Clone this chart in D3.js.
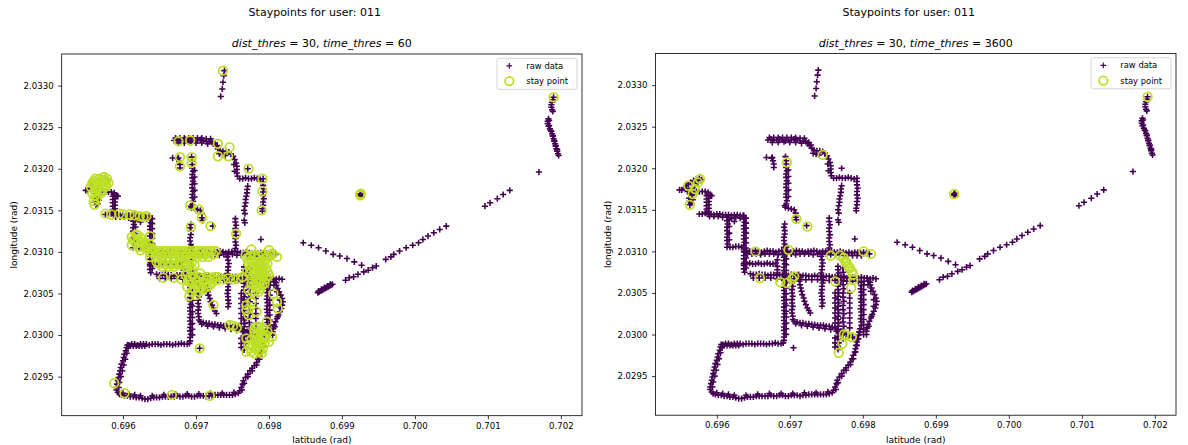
<!DOCTYPE html>
<html><head><meta charset="utf-8">
<script src="https://cdn.jsdelivr.net/npm/d3@7"></script>
<style>body{margin:0;background:#fff}svg{display:block}text{font-family:"DejaVu Sans",sans-serif;fill:#000}</style>
</head><body><svg id="chart" width="1188" height="445"></svg>
<script>
const xTicks=[0.696,0.697,0.698,0.699,0.700,0.701,0.702];
const yTicks=[2.0295,2.0300,2.0305,2.0310,2.0315,2.0320,2.0325,2.0330];
const thresholds=["60","3600"];
const userId="011";

const rawNorth=[[0.69739,2.03318],[0.69738,2.03312],[0.69737,2.03304],[0.69736,2.03296],[0.69734,2.03287],
[0.69668,2.03213],[0.69676,2.03213],[0.69677,2.03209],[0.69678,2.03205],[0.69678,2.03201],[0.69675,2.03212],
[0.69670,2.03234],[0.69674,2.03235],[0.69678,2.03234],[0.69682,2.03234],[0.69686,2.03235],[0.69690,2.03234],[0.69694,2.03233],[0.69698,2.03234],[0.69702,2.03234],[0.69706,2.03235],[0.69710,2.03234],[0.69714,2.03233],[0.69718,2.03233],[0.69722,2.03232],
[0.69676,2.03231],[0.69684,2.03231],[0.69692,2.03232],[0.69700,2.03231],[0.69708,2.03231],[0.69716,2.03230],
[0.69672,2.03237],[0.69678,2.03237],[0.69684,2.03237],[0.69690,2.03237],[0.69696,2.03237],[0.69702,2.03237],[0.69708,2.03237],[0.69714,2.03236],[0.69720,2.03236],
[0.69724,2.03230],[0.69727,2.03227],[0.69730,2.03224],[0.69733,2.03222],[0.69737,2.03221],[0.69741,2.03221],[0.69745,2.03220],[0.69748,2.03218],[0.69751,2.03215],[0.69753,2.03211],[0.69755,2.03207],[0.69756,2.03203],[0.69756,2.03199],[0.69756,2.03195],[0.69757,2.03191],[0.69760,2.03188],
[0.69732,2.03218],[0.69736,2.03217],[0.69740,2.03216],[0.69752,2.03205],[0.69753,2.03197],[0.69726,2.03231],[0.69729,2.03228],
[0.69764,2.03188],[0.69768,2.03189],[0.69772,2.03188],[0.69776,2.03188],[0.69780,2.03189],[0.69784,2.03188],[0.69788,2.03187],[0.69792,2.03188],
[0.69792,2.03184],[0.69792,2.03180],[0.69793,2.03176],[0.69792,2.03172],[0.69792,2.03168],[0.69793,2.03164],[0.69792,2.03160],[0.69792,2.03156],[0.69791,2.03152],[0.69791,2.03149],
[0.69771,2.03200],
[0.69771,2.03179],[0.69770,2.03175],[0.69770,2.03171],[0.69769,2.03167],[0.69768,2.03163],[0.69768,2.03159],[0.69767,2.03155],[0.69766,2.03150],[0.69767,2.03146],[0.69766,2.03138],[0.69767,2.03135],
[0.69789,2.03115]];

const rawMiddle=[[0.69694,2.03214],[0.69695,2.03209],[0.69695,2.03205],[0.69695,2.03201],[0.69696,2.03197],[0.69695,2.03193],[0.69695,2.03189],[0.69696,2.03185],[0.69695,2.03181],[0.69695,2.03177],[0.69696,2.03173],[0.69695,2.03169],[0.69695,2.03165],[0.69696,2.03161],[0.69695,2.03157],[0.69694,2.03153],
[0.69698,2.03198],[0.69698,2.03190],[0.69698,2.03182],[0.69698,2.03174],[0.69698,2.03166],
[0.69698,2.03152],[0.69702,2.03151],[0.69706,2.03150],[0.69708,2.03146],[0.69708,2.03141],[0.69709,2.03138],[0.69723,2.03131],[0.69693,2.03155],
[0.69693,2.03133],[0.69692,2.03129],[0.69693,2.03125],[0.69693,2.03121],[0.69692,2.03117],[0.69692,2.03113],[0.69693,2.03109],[0.69692,2.03105],[0.69692,2.03101],[0.69693,2.03097],[0.69692,2.03093],[0.69692,2.03089],[0.69693,2.03085],[0.69692,2.03081],[0.69692,2.03077],[0.69693,2.03073],[0.69692,2.03069],[0.69692,2.03065],[0.69693,2.03061],[0.69692,2.03057],[0.69692,2.03053],[0.69693,2.03049],[0.69692,2.03045],[0.69692,2.03041],[0.69693,2.03037],[0.69692,2.03033],[0.69692,2.03029],[0.69693,2.03025],[0.69692,2.03021],[0.69692,2.03017],[0.69693,2.03013],[0.69692,2.03009],[0.69692,2.03005],[0.69693,2.03001],[0.69692,2.02997],[0.69692,2.02993],
[0.69695,2.03105],[0.69695,2.03098],[0.69695,2.03091],[0.69695,2.03084],[0.69695,2.03077],[0.69695,2.03070],[0.69695,2.03063],[0.69695,2.03056],[0.69695,2.03049],[0.69695,2.03042],[0.69695,2.03035],[0.69695,2.03028],[0.69695,2.03021],[0.69695,2.03014],[0.69695,2.03007],[0.69695,2.03000],
[0.69703,2.03062],[0.69704,2.03058],[0.69703,2.03054],[0.69703,2.03050],[0.69704,2.03046],[0.69703,2.03042],[0.69703,2.03038],[0.69704,2.03034],[0.69703,2.03030],[0.69703,2.03026],[0.69704,2.03022],[0.69704,2.03018],
[0.69706,2.03016],[0.69710,2.03015],[0.69714,2.03014],[0.69718,2.03014],[0.69722,2.03013],[0.69726,2.03013],[0.69730,2.03012],[0.69734,2.03012],[0.69738,2.03011],[0.69742,2.03011],[0.69746,2.03011],[0.69750,2.03010],[0.69754,2.03010],[0.69758,2.03009],[0.69762,2.03008],[0.69766,2.03006],[0.69770,2.03004],[0.69774,2.03002],[0.69778,2.03000],[0.69782,2.02999],[0.69786,2.02997],[0.69790,2.02996],
[0.69708,2.03013],[0.69716,2.03011],[0.69724,2.03010],[0.69732,2.03009],[0.69740,2.03008],[0.69748,2.03007],[0.69756,2.03006],[0.69764,2.03004],[0.69772,2.03000],[0.69780,2.02997],
[0.69712,2.03072],[0.69713,2.03068],[0.69713,2.03064],[0.69714,2.03060],[0.69715,2.03056],[0.69716,2.03052],[0.69717,2.03048],[0.69719,2.03044],[0.69720,2.03040],[0.69722,2.03036],[0.69724,2.03032],[0.69726,2.03029],[0.69728,2.03026],
[0.69744,2.03098],[0.69743,2.03094],[0.69744,2.03090],[0.69745,2.03086],[0.69744,2.03082],[0.69744,2.03078],[0.69743,2.03074],[0.69744,2.03070],[0.69744,2.03066],[0.69745,2.03062],[0.69744,2.03058],[0.69744,2.03054],[0.69743,2.03050],[0.69744,2.03046],[0.69744,2.03042],[0.69745,2.03038],[0.69744,2.03034],
[0.69766,2.03082],[0.69766,2.03078],[0.69767,2.03074],[0.69766,2.03070],[0.69766,2.03066],[0.69767,2.03062],[0.69766,2.03058],[0.69766,2.03054],[0.69767,2.03050],[0.69766,2.03046],[0.69766,2.03042],[0.69767,2.03038],[0.69766,2.03034],[0.69766,2.03030],[0.69767,2.03026],[0.69766,2.03022],[0.69766,2.03018],[0.69767,2.03014],[0.69766,2.03010],[0.69766,2.03006],[0.69767,2.03002],[0.69766,2.02998],[0.69766,2.02994],[0.69767,2.02990],[0.69766,2.02986],[0.69766,2.02982],
[0.69773,2.03080],[0.69773,2.03075],[0.69774,2.03070],[0.69773,2.03065],[0.69773,2.03060],[0.69774,2.03055],[0.69773,2.03050],[0.69773,2.03045],[0.69774,2.03040],[0.69773,2.03035],[0.69773,2.03030],[0.69774,2.03025],[0.69773,2.03020],[0.69773,2.03015],[0.69774,2.03010],[0.69773,2.03005],[0.69773,2.03000],[0.69773,2.02995],
[0.69762,2.03050],[0.69762,2.03044],[0.69762,2.03038],[0.69762,2.03032],[0.69762,2.03026],[0.69762,2.03020],[0.69762,2.03014],[0.69762,2.02996],[0.69762,2.02990],[0.69762,2.02985],
[0.69782,2.03050],[0.69782,2.03044],[0.69782,2.03038],[0.69782,2.03032],[0.69782,2.03026],[0.69782,2.03020],[0.69782,2.03014],[0.69782,2.03008],
[0.69754,2.03140],[0.69754,2.03136],[0.69755,2.03132],[0.69754,2.03128],[0.69754,2.03124],[0.69755,2.03120],[0.69754,2.03116],[0.69754,2.03112],[0.69755,2.03108],[0.69754,2.03104],
[0.69637,2.03100],[0.69641,2.03101],[0.69645,2.03100],[0.69649,2.03100],[0.69653,2.03101],[0.69657,2.03100],[0.69661,2.03099],[0.69665,2.03100],[0.69669,2.03101],[0.69673,2.03100],[0.69677,2.03100],[0.69681,2.03099],[0.69685,2.03100],[0.69689,2.03101],[0.69693,2.03100],[0.69697,2.03100],[0.69701,2.03099],[0.69705,2.03100],[0.69709,2.03101],[0.69713,2.03100],[0.69717,2.03100],[0.69721,2.03099],[0.69725,2.03100],[0.69729,2.03100],[0.69733,2.03101],[0.69737,2.03100],[0.69741,2.03099],[0.69745,2.03100],[0.69749,2.03100],[0.69753,2.03101],[0.69757,2.03100],[0.69761,2.03099],[0.69765,2.03099],[0.69769,2.03100],[0.69773,2.03099],[0.69777,2.03098],[0.69781,2.03099],[0.69785,2.03098],[0.69789,2.03099],[0.69793,2.03099],[0.69797,2.03098],[0.69801,2.03099],[0.69805,2.03098],[0.69809,2.03097],
[0.69642,2.03097],[0.69648,2.03097],[0.69654,2.03097],[0.69660,2.03096],[0.69666,2.03097],[0.69672,2.03097],[0.69678,2.03097],[0.69684,2.03096],[0.69690,2.03097],[0.69696,2.03097],[0.69702,2.03097],[0.69708,2.03096],[0.69714,2.03097],[0.69720,2.03097],[0.69726,2.03097],[0.69732,2.03096],[0.69738,2.03097],[0.69744,2.03097],[0.69750,2.03097],[0.69756,2.03096],[0.69762,2.03096],[0.69768,2.03096],[0.69774,2.03095],[0.69780,2.03095],[0.69786,2.03095],[0.69792,2.03095],[0.69798,2.03095],
[0.69637,2.03085],[0.69641,2.03085],[0.69645,2.03086],[0.69649,2.03085],[0.69653,2.03085],[0.69657,2.03086],[0.69661,2.03085],[0.69665,2.03085],[0.69669,2.03086],[0.69673,2.03085],[0.69677,2.03085],[0.69681,2.03086],
[0.69683,2.03090],[0.69683,2.03082],[0.69683,2.03078],[0.69683,2.03074],
[0.69646,2.03073],[0.69650,2.03072],[0.69654,2.03072],[0.69658,2.03073],[0.69662,2.03072],[0.69666,2.03072],[0.69670,2.03071],[0.69674,2.03072],[0.69678,2.03072],[0.69682,2.03071],[0.69686,2.03072],[0.69690,2.03072],[0.69694,2.03071],[0.69698,2.03071],[0.69702,2.03072],[0.69706,2.03071],[0.69710,2.03071],[0.69714,2.03070],[0.69718,2.03071],[0.69722,2.03071],[0.69726,2.03070],[0.69730,2.03070],[0.69734,2.03071],[0.69738,2.03070],[0.69742,2.03070],[0.69746,2.03069],[0.69750,2.03070],[0.69754,2.03070],[0.69758,2.03069],[0.69762,2.03069],[0.69766,2.03070],[0.69770,2.03069],[0.69774,2.03069],[0.69778,2.03068],[0.69782,2.03069],[0.69786,2.03069],[0.69790,2.03068],[0.69794,2.03068],[0.69798,2.03069],[0.69802,2.03068],[0.69806,2.03068],[0.69810,2.03067],[0.69814,2.03068],[0.69818,2.03067],
[0.69650,2.03068],[0.69658,2.03068],[0.69666,2.03068],[0.69674,2.03068],[0.69682,2.03067],[0.69690,2.03067],[0.69698,2.03067],[0.69706,2.03067],[0.69714,2.03066],[0.69722,2.03066],[0.69730,2.03066],[0.69738,2.03066],[0.69746,2.03065],[0.69754,2.03065],[0.69762,2.03065],[0.69770,2.03065],[0.69778,2.03064],[0.69786,2.03064],[0.69794,2.03064],[0.69802,2.03064],[0.69810,2.03063],
[0.69798,2.03011],[0.69798,2.03015],[0.69797,2.03019],[0.69798,2.03023],[0.69798,2.03027],[0.69797,2.03031],[0.69798,2.03035],[0.69798,2.03039],[0.69797,2.03043],[0.69798,2.03047],[0.69798,2.03051],[0.69797,2.03055],[0.69798,2.03059],[0.69798,2.03063],
[0.69801,2.03000],[0.69801,2.03006],[0.69801,2.03012],[0.69801,2.03018],[0.69801,2.03024],[0.69801,2.03030],[0.69801,2.03036],[0.69801,2.03042],[0.69801,2.03048],[0.69801,2.03054],[0.69801,2.03060],
[0.69805,2.03000],[0.69805,2.03004],[0.69806,2.03008],[0.69807,2.03012],[0.69809,2.03016],[0.69811,2.03020],[0.69813,2.03024],[0.69815,2.03028],[0.69817,2.03032],[0.69818,2.03036],[0.69819,2.03040],[0.69818,2.03044],[0.69816,2.03048],[0.69814,2.03052],[0.69812,2.03056],[0.69810,2.03060],[0.69808,2.03064],[0.69806,2.03068],
[0.69808,2.03010],[0.69812,2.03022],[0.69815,2.03034],[0.69815,2.03042],[0.69811,2.03052],[0.69807,2.03060]];

const rawWest=[[0.69637,2.03143],[0.69637,2.03139],[0.69638,2.03135],[0.69637,2.03131],[0.69637,2.03127],[0.69638,2.03123],[0.69637,2.03119],[0.69637,2.03115],[0.69638,2.03111],[0.69637,2.03107],[0.69637,2.03103],[0.69638,2.03099],[0.69637,2.03095],[0.69637,2.03091],[0.69638,2.03087],[0.69637,2.03083],[0.69637,2.03079],[0.69638,2.03075],
[0.69640,2.03140],[0.69640,2.03134],[0.69640,2.03128],[0.69640,2.03122],[0.69640,2.03116],[0.69640,2.03110],[0.69640,2.03104],[0.69640,2.03098],[0.69640,2.03092],[0.69640,2.03086],[0.69640,2.03080],
[0.69614,2.03141],[0.69614,2.03137],[0.69615,2.03133],[0.69614,2.03129],[0.69614,2.03125],[0.69615,2.03121],[0.69614,2.03117],[0.69614,2.03113],[0.69615,2.03109],[0.69614,2.03105],
[0.69617,2.03138],[0.69617,2.03130],[0.69617,2.03122],[0.69617,2.03114],
[0.69618,2.03105],[0.69622,2.03105],[0.69626,2.03106],[0.69630,2.03106],[0.69634,2.03105],[0.69624,2.03136],
[0.69576,2.03145],[0.69580,2.03145],[0.69584,2.03146],[0.69588,2.03145],[0.69592,2.03145],[0.69596,2.03144],[0.69600,2.03145],[0.69604,2.03145],[0.69608,2.03144],[0.69612,2.03144],[0.69616,2.03144],[0.69620,2.03143],[0.69624,2.03144],[0.69628,2.03144],[0.69632,2.03143],[0.69636,2.03143],
[0.69590,2.03142],[0.69596,2.03142],[0.69602,2.03142],[0.69608,2.03141],[0.69614,2.03141],[0.69620,2.03140],[0.69626,2.03141],[0.69632,2.03140],
[0.69576,2.03172],[0.69580,2.03172],[0.69584,2.03172],[0.69588,2.03171],[0.69586,2.03167],[0.69586,2.03163],[0.69586,2.03159],[0.69586,2.03155],[0.69586,2.03151],[0.69586,2.03147],[0.69589,2.03168],[0.69589,2.03164],[0.69589,2.03160],[0.69589,2.03156],[0.69589,2.03152],[0.69589,2.03148],[0.69591,2.03168],[0.69593,2.03167],
[0.69549,2.03174],[0.69552,2.03174],[0.69555,2.03176],[0.69558,2.03179],[0.69561,2.03181],[0.69564,2.03183],[0.69568,2.03185],[0.69572,2.03187],[0.69576,2.03188],[0.69579,2.03186],[0.69560,2.03172],[0.69563,2.03170],[0.69566,2.03168],[0.69569,2.03170],[0.69572,2.03172],[0.69562,2.03164],[0.69562,2.03160],[0.69563,2.03156],[0.69565,2.03158],[0.69567,2.03162],[0.69558,2.03176],[0.69570,2.03180],[0.69574,2.03182],[0.69566,2.03176]];

const rawSouthLoop=[[0.69691,2.02990],
[0.69688,2.02989],[0.69684,2.02989],[0.69680,2.02990],[0.69676,2.02989],[0.69672,2.02989],[0.69668,2.02988],[0.69664,2.02989],[0.69660,2.02989],[0.69656,2.02989],[0.69652,2.02988],[0.69648,2.02989],[0.69644,2.02989],[0.69640,2.02989],[0.69636,2.02988],[0.69632,2.02989],[0.69628,2.02989],[0.69624,2.02989],[0.69620,2.02988],[0.69616,2.02989],[0.69612,2.02989],[0.69608,2.02988],
[0.69610,2.02987],[0.69614,2.02987],[0.69618,2.02987],[0.69622,2.02987],[0.69626,2.02987],[0.69630,2.02987],
[0.69606,2.02988],[0.69605,2.02985],[0.69604,2.02981],[0.69602,2.02977],[0.69601,2.02973],[0.69600,2.02969],[0.69598,2.02965],[0.69597,2.02961],[0.69596,2.02957],[0.69595,2.02953],[0.69594,2.02949],[0.69593,2.02945],[0.69592,2.02941],[0.69591,2.02937],[0.69591,2.02934],[0.69593,2.02931],[0.69595,2.02929],
[0.69607,2.02984],[0.69605,2.02978],[0.69603,2.02971],[0.69601,2.02964],[0.69599,2.02957],[0.69597,2.02950],[0.69595,2.02943],[0.69594,2.02937],
[0.69598,2.02928],[0.69602,2.02927],[0.69606,2.02927],[0.69610,2.02926],[0.69614,2.02926],[0.69618,2.02925],[0.69622,2.02925],[0.69626,2.02924],[0.69630,2.02923],[0.69634,2.02923],[0.69638,2.02924],[0.69642,2.02925],[0.69646,2.02925],[0.69650,2.02925],[0.69654,2.02926],[0.69658,2.02926],[0.69662,2.02926],[0.69666,2.02926],[0.69670,2.02926],[0.69674,2.02927],[0.69678,2.02926],[0.69682,2.02926],[0.69686,2.02927],[0.69690,2.02927],[0.69694,2.02926],[0.69698,2.02926],[0.69702,2.02927],[0.69706,2.02927],[0.69710,2.02927],[0.69714,2.02926],[0.69718,2.02927],[0.69722,2.02927],[0.69726,2.02928],[0.69730,2.02928],[0.69734,2.02928],[0.69738,2.02928],[0.69742,2.02928],[0.69746,2.02928],[0.69750,2.02928],[0.69754,2.02929],[0.69758,2.02930],
[0.69600,2.02930],[0.69608,2.02929],[0.69616,2.02928],[0.69624,2.02927],[0.69640,2.02927],[0.69656,2.02928],[0.69672,2.02929],[0.69688,2.02929],[0.69704,2.02929],[0.69720,2.02930],[0.69736,2.02930],[0.69752,2.02931],
[0.69760,2.02933],[0.69762,2.02937],[0.69764,2.02941],[0.69765,2.02945],[0.69768,2.02949],[0.69771,2.02953],[0.69774,2.02957],[0.69777,2.02960],[0.69780,2.02963],[0.69783,2.02967],[0.69785,2.02971],[0.69787,2.02975],[0.69789,2.02979],[0.69790,2.02983],[0.69791,2.02987],[0.69792,2.02991],[0.69793,2.02995],[0.69794,2.02999],[0.69795,2.03003],[0.69796,2.03007],
[0.69763,2.02934],[0.69766,2.02942],[0.69771,2.02950],[0.69777,2.02957],[0.69783,2.02964],[0.69787,2.02971],[0.69790,2.02979],[0.69792,2.02987],[0.69794,2.02995],[0.69796,2.03003],
[0.69705,2.02984]];

const rawFar=[[0.69847,2.03111],[0.69858,2.03108],[0.69868,2.03105],[0.69878,2.03101],[0.69888,2.03097],[0.69897,2.03095],[0.69907,2.03092],[0.69917,2.03088],[0.69927,2.03084],
[0.69867,2.03051],[0.69869,2.03052],[0.69871,2.03053],[0.69873,2.03054],[0.69875,2.03055],[0.69877,2.03056],[0.69879,2.03057],[0.69881,2.03058],[0.69883,2.03059],[0.69885,2.03060],[0.69887,2.03061],[0.69868,2.03053],[0.69872,2.03055],[0.69876,2.03057],[0.69880,2.03059],[0.69884,2.03061],
[0.69905,2.03066],[0.69910,2.03069],[0.69916,2.03070],[0.69922,2.03073],[0.69930,2.03076],[0.69936,2.03078],[0.69942,2.03081],[0.69947,2.03083],[0.69960,2.03091],[0.69967,2.03094],[0.69971,2.03097],[0.69979,2.03101],[0.69988,2.03105],[0.69997,2.03108],[0.70005,2.03111],[0.70011,2.03115],[0.70018,2.03119],[0.70026,2.03123],[0.70034,2.03127],[0.70043,2.03131],[0.70096,2.03155],[0.70103,2.03159],[0.70113,2.03164],[0.70121,2.03169],[0.70130,2.03174],[0.70170,2.03196],
[0.70190,2.03286],[0.70189,2.03283],[0.70188,2.03280],[0.70187,2.03277],[0.70187,2.03274],[0.70188,2.03271],[0.70189,2.03269],
[0.70183,2.03260],[0.70182,2.03257],[0.70182,2.03254],[0.70183,2.03251],[0.70185,2.03248],[0.70187,2.03245],[0.70188,2.03242],[0.70189,2.03239],[0.70190,2.03236],[0.70191,2.03233],[0.70192,2.03230],[0.70193,2.03227],[0.70194,2.03224],[0.70195,2.03221],[0.70196,2.03218],[0.70197,2.03216],
[0.70184,2.03258],[0.70184,2.03252],[0.70186,2.03246],[0.70189,2.03240],[0.70191,2.03234],[0.70193,2.03228],[0.70195,2.03223],
[0.69925,2.03169],[0.69926,2.03170],[0.69925,2.03168],[0.69927,2.03167]];

const stayLeft=[[0.69737,2.03318],[0.69676,2.03233],[0.69692,2.03234],[0.69730,2.03230],[0.69746,2.03226],[0.69678,2.03214],[0.69678,2.03203],[0.69694,2.03214],[0.69694,2.03207],[0.69730,2.03215],[0.69744,2.03215],[0.69772,2.03200],[0.69791,2.03188],[0.69791,2.03173],[0.69790,2.03150],[0.69692,2.03156],[0.69704,2.03151],[0.69708,2.03141],[0.69720,2.03131],[0.69693,2.03130],[0.69755,2.03122],[0.69776,2.03103],[0.69800,2.03102],
[0.69560,2.03181],[0.69566,2.03183],[0.69576,2.03185],[0.69577,2.03179],[0.69563,2.03173],[0.69570,2.03171],[0.69561,2.03157],[0.69556,2.03178],[0.69560,2.03185],[0.69568,2.03188],[0.69572,2.03184],[0.69566,2.03176],[0.69572,2.03175],[0.69558,2.03170],[0.69574,2.03190],[0.69580,2.03183],[0.69562,2.03168],[0.69564,2.03179],
[0.69558,2.03183],[0.69562,2.03188],[0.69570,2.03186],[0.69578,2.03188],[0.69576,2.03181],[0.69568,2.03180],[0.69562,2.03176],[0.69568,2.03173],[0.69564,2.03164],[0.69560,2.03161],
[0.69576,2.03146],[0.69584,2.03145],[0.69595,2.03146],[0.69600,2.03145],[0.69609,2.03145],[0.69616,2.03144],[0.69623,2.03143],[0.69632,2.03143],[0.69628,2.03142],
[0.69618,2.03121],[0.69637,2.03119],
[0.69614,2.03114],[0.69620,2.03114],[0.69626,2.03112],[0.69632,2.03108],[0.69640,2.03104],[0.69618,2.03110],[0.69622,2.03106],[0.69630,2.03105],[0.69634,2.03104],[0.69637,2.03100],
[0.69612,2.03118],[0.69616,2.03116],[0.69624,2.03117],[0.69628,2.03110],[0.69624,2.03102],[0.69636,2.03110],[0.69612,2.03108],[0.69620,2.03120],
[0.69640,2.03099],[0.69646,2.03098],[0.69652,2.03098],[0.69658,2.03098],[0.69664,2.03099],[0.69670,2.03098],[0.69676,2.03098],[0.69682,2.03099],[0.69688,2.03098],[0.69694,2.03098],[0.69700,2.03097],[0.69706,2.03098],[0.69712,2.03097],[0.69718,2.03098],[0.69724,2.03097],
[0.69643,2.03101],[0.69649,2.03101],[0.69655,2.03101],[0.69661,2.03101],[0.69667,2.03101],[0.69673,2.03101],[0.69679,2.03101],[0.69685,2.03101],[0.69691,2.03101],[0.69697,2.03101],[0.69703,2.03101],[0.69709,2.03101],[0.69715,2.03101],[0.69721,2.03101],[0.69727,2.03101],
[0.69637,2.03094],[0.69645,2.03094],[0.69653,2.03094],[0.69661,2.03094],[0.69669,2.03094],[0.69677,2.03094],[0.69685,2.03094],[0.69693,2.03094],[0.69701,2.03094],[0.69709,2.03094],[0.69717,2.03094],
[0.69650,2.03086],[0.69658,2.03085],[0.69666,2.03085],[0.69674,2.03085],[0.69682,2.03086],[0.69690,2.03085],[0.69698,2.03084],
[0.69646,2.03088],[0.69654,2.03088],[0.69662,2.03088],[0.69670,2.03088],[0.69678,2.03088],[0.69686,2.03088],[0.69694,2.03088],[0.69654,2.03082],[0.69662,2.03082],[0.69670,2.03082],[0.69686,2.03082],[0.69694,2.03080],
[0.69686,2.03072],[0.69692,2.03070],[0.69698,2.03068],[0.69704,2.03070],[0.69710,2.03068],[0.69716,2.03066],[0.69722,2.03068],[0.69728,2.03066],[0.69695,2.03062],[0.69701,2.03060],[0.69707,2.03058],[0.69713,2.03062],[0.69689,2.03065],[0.69719,2.03060],[0.69725,2.03070],[0.69704,2.03052],[0.69691,2.03047],
[0.69688,2.03076],[0.69696,2.03074],[0.69702,2.03064],[0.69710,2.03064],[0.69716,2.03070],[0.69722,2.03063],[0.69698,2.03056],[0.69710,2.03055],[0.69716,2.03058],[0.69694,2.03052],[0.69700,2.03048],[0.69688,2.03058],[0.69730,2.03070],[0.69706,2.03074],
[0.69655,2.03069],[0.69669,2.03069],[0.69680,2.03067],[0.69678,2.03085],[0.69724,2.03036],
[0.69737,2.03067],[0.69744,2.03068],[0.69751,2.03067],[0.69758,2.03068],[0.69764,2.03070],
[0.69768,2.03096],[0.69774,2.03095],[0.69780,2.03096],[0.69786,2.03095],[0.69792,2.03096],[0.69798,2.03095],[0.69776,2.03090],[0.69782,2.03088],[0.69788,2.03086],[0.69794,2.03088],[0.69778,2.03082],[0.69784,2.03080],[0.69790,2.03078],[0.69780,2.03074],[0.69786,2.03072],[0.69792,2.03070],[0.69782,2.03066],[0.69788,2.03064],[0.69776,2.03068],[0.69770,2.03076],[0.69796,2.03080],[0.69800,2.03072],[0.69791,2.03060],[0.69785,2.03058],[0.69779,2.03060],
[0.69770,2.03092],[0.69772,2.03086],[0.69774,2.03080],[0.69774,2.03074],[0.69784,2.03092],[0.69790,2.03090],[0.69796,2.03092],[0.69798,2.03086],[0.69792,2.03082],[0.69786,2.03084],[0.69780,2.03078],[0.69788,2.03076],[0.69794,2.03074],[0.69784,2.03068],[0.69790,2.03066],[0.69796,2.03068],[0.69776,2.03062],[0.69782,2.03058],[0.69788,2.03056],[0.69794,2.03062],[0.69798,2.03076],[0.69772,2.03054],[0.69778,2.03052],[0.69786,2.03052],
[0.69802,2.03096],[0.69811,2.03094],[0.69805,2.03098],
[0.69769,2.03036],[0.69769,2.03030],[0.69783,2.03028],[0.69776,2.03040],[0.69772,2.03024],
[0.69797,2.03016],[0.69783,2.03010],[0.69804,2.02998],[0.69811,2.03040],[0.69806,2.03050],[0.69812,2.03032],
[0.69751,2.03011],[0.69756,2.03009],[0.69746,2.03012],
[0.69769,2.02996],[0.69772,2.02988],[0.69769,2.02980],
[0.69782,2.03000],[0.69786,2.02996],[0.69790,2.02992],[0.69794,2.02996],[0.69788,2.02988],[0.69792,2.02984],[0.69784,2.02986],[0.69796,2.03000],[0.69800,2.02992],[0.69788,2.03004],[0.69782,2.02992],[0.69776,2.02994],[0.69786,2.02980],[0.69790,2.02978],
[0.69780,2.03008],[0.69786,2.03010],[0.69792,2.03008],[0.69780,2.03004],[0.69784,2.02998],[0.69778,2.02988],[0.69782,2.02984],[0.69788,2.02982],[0.69794,2.02990],[0.69792,2.03000],[0.69798,2.03004],[0.69784,2.02992],[0.69790,2.02998],[0.69776,2.02980],[0.69780,2.02978],[0.69774,2.02984],
[0.69588,2.02942],[0.69602,2.02930],[0.69667,2.02928],[0.69719,2.02927],[0.69705,2.02984],
[0.69925,2.03169],[0.69926,2.03170],[0.69925,2.03168],[0.70190,2.03286]];

const stayRight=[[0.69561,2.03179],[0.69577,2.03187],[0.69567,2.03169],[0.69563,2.03156],[0.69570,2.03175],[0.69574,2.03183],
[0.69696,2.03207],[0.69745,2.03216],[0.69709,2.03139],[0.69724,2.03130],
[0.69653,2.03100],[0.69698,2.03102],[0.69756,2.03095],[0.69769,2.03095],[0.69774,2.03092],[0.69776,2.03088],[0.69780,2.03082],[0.69785,2.03076],[0.69787,2.03072],[0.69801,2.03100],[0.69811,2.03097],[0.69778,2.03086],[0.69782,2.03080],
[0.69659,2.03068],[0.69687,2.03063],[0.69696,2.03062],[0.69703,2.03067],[0.69706,2.03070],[0.69762,2.03064],[0.69787,2.03066],[0.69784,2.03056],
[0.69774,2.03000],[0.69778,2.02999],[0.69785,2.02997],[0.69772,2.02989],[0.69767,2.02978],
[0.69925,2.03169],[0.70190,2.03286]];

const rawData=[].concat(rawNorth,rawMiddle,rawWest,rawSouthLoop,rawFar);

const svg=d3.select("#chart");
const xDomain=[0.69516,0.70229], yDomain=[2.02903,2.03338];
const panels=[
  {x:61.7,y:54,w:520.3,h:361.7,time:thresholds[0],stay:stayLeft},
  {x:655.5,y:53.5,w:520.5,h:361.7,time:thresholds[1],stay:stayRight}
];
const purple="#440154", lime="#bddf26";
const plus="M-3.1,0H3.1M0,-3.1V3.1";

panels.forEach((p,i)=>{
  const g=svg.append("g");
  const x=d3.scaleLinear().domain(xDomain).range([p.x,p.x+p.w]);
  const y=d3.scaleLinear().domain(yDomain).range([p.y+p.h,p.y]);
  const cid="clip"+i;
  svg.append("clipPath").attr("id",cid).append("rect").attr("x",p.x).attr("y",p.y).attr("width",p.w).attr("height",p.h);
  const plot=g.append("g").attr("clip-path",`url(#${cid})`);
  plot.selectAll("path.raw").data(rawData).join("path").attr("class","raw")
    .attr("d",plus).attr("transform",d=>`translate(${x(d[0])},${y(d[1])})`)
    .attr("fill","none").attr("stroke",purple).attr("stroke-width",1.55);
  plot.selectAll("circle.stay").data(p.stay).join("circle").attr("class","stay")
    .attr("cx",d=>x(d[0])).attr("cy",d=>y(d[1])).attr("r",4.3)
    .attr("fill","none").attr("stroke",lime).attr("stroke-width",1.8);

  const xa=g.append("g").attr("transform",`translate(0,${p.y+p.h})`)
    .call(d3.axisBottom(x).tickValues(xTicks).tickFormat(d3.format(".3f")).tickSizeOuter(0).tickSize(3.5).tickPadding(3.5));
  const ya=g.append("g").attr("transform",`translate(${p.x},0)`)
    .call(d3.axisLeft(y).tickValues(yTicks).tickFormat(d3.format(".4f")).tickSizeOuter(0).tickSize(3.5).tickPadding(4.5));
  [xa,ya].forEach(a=>{a.select(".domain").remove();a.selectAll("line").attr("stroke","#000").attr("stroke-width",0.8);
    a.selectAll("text").attr("font-size","8.6px").attr("font-family","DejaVu Sans").attr("fill","#000");});
  g.append("rect").attr("x",p.x).attr("y",p.y).attr("width",p.w).attr("height",p.h)
    .attr("fill","none").attr("stroke","#000").attr("stroke-width",0.8);

  const cx=p.x+p.w/2;
  g.append("text").attr("x",cx).attr("y",442.5).attr("text-anchor","middle").attr("font-size","9px").text("latitude (rad)");
  g.append("text").attr("transform",`translate(${p.x-44.5},${p.y+p.h/2}) rotate(-90)`).attr("text-anchor","middle").attr("font-size","9px").text("longitude (rad)");

  g.append("text").attr("x",cx-7).attr("y",16).attr("text-anchor","middle").attr("font-size","11px").text("Staypoints for user: "+userId);
  const st=g.append("text").attr("x",cx).attr("y",47).attr("text-anchor","middle").attr("font-size","11px");
  st.append("tspan").attr("font-style","italic").text("dist_thres");
  st.append("tspan").text(" = 30, ");
  st.append("tspan").attr("font-style","italic").text("time_thres");
  st.append("tspan").text(" = "+p.time);

  const lx=p.x+p.w-85, ly=p.y+4.3;
  const lg=g.append("g");
  lg.append("rect").attr("x",lx).attr("y",ly).attr("width",80).attr("height",31).attr("rx",2)
    .attr("fill","#fff").attr("fill-opacity",0.8).attr("stroke","#ccc").attr("stroke-width",0.8);
  lg.append("path").attr("d","M-2.8,0H2.8M0,-2.8V2.8").attr("transform",`translate(${lx+12.3},${ly+7.6})`).attr("fill","none").attr("stroke",purple).attr("stroke-width",1.15);
  lg.append("circle").attr("cx",lx+12.3).attr("cy",ly+22.8).attr("r",4.3).attr("fill","none").attr("stroke",lime).attr("stroke-width",1.7);
  lg.append("text").attr("x",lx+29.3).attr("y",ly+10.6).attr("font-size","8.4px").text("raw data");
  lg.append("text").attr("x",lx+29.3).attr("y",ly+25.8).attr("font-size","8.4px").text("stay point");
});
</script></body></html>
